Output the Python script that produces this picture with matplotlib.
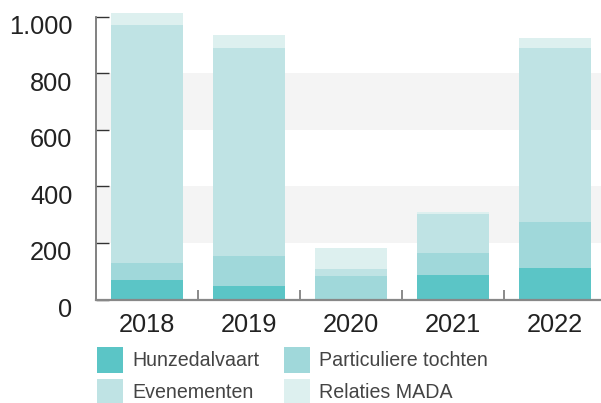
import numpy as np
import matplotlib.pyplot as plt
from matplotlib.patches import Rectangle
from matplotlib.transforms import ScaledTranslation

plt.rcParams['font.family'] = ['Liberation Sans', 'DejaVu Sans']

years = ['2018', '2019', '2020', '2021', '2022']
series = ['Hunzedalvaart', 'Particuliere tochten', 'Evenementen', 'Relaties MADA']
hunzedalvaart = [69, 49, 0, 86, 111]
particulier = [60, 105, 83, 78, 163]
evenementen = [843, 737, 25, 138, 617]
relaties = [40, 46, 74, 7, 32]
colors = ['#5bc5c6', '#a0d8da', '#bfe3e4', '#ddf0ef']
yticks = [0, 200, 400, 600, 800, 1000]
ytick_labels = ['0', '200', '400', '600', '800', '1.000']

fig = plt.figure(figsize=(6.01, 4.03), dpi=100)
ax = fig.add_axes([96/601, 103.5/403, 510/601, 282.8/403])

# grey bands
ax.axhspan(200, 400, color='#f4f4f4', lw=0, zorder=0)
ax.axhspan(600, 800, color='#f4f4f4', lw=0, zorder=0)

x = np.arange(len(years))
bottom = np.zeros(len(years))
for vals, c in zip([hunzedalvaart, particulier, evenementen, relaties], colors):
    ax.bar(x, vals, 0.7, bottom=bottom, color=c, lw=0, zorder=2, clip_on=False)
    bottom += np.array(vals)

ax.set_xlim(-0.5, 4.5)
ax.set_ylim(0, 1000)

for s in ['top', 'right']:
    ax.spines[s].set_visible(False)
ax.spines['left'].set_color('#777777')
ax.spines['left'].set_linewidth(1.3)
ax.spines['bottom'].set_color('#888888')
ax.spines['bottom'].set_linewidth(1.6)
ax.spines['bottom'].set_zorder(3)

ax.set_yticks(yticks)
ax.set_yticklabels(ytick_labels)
ax.tick_params(axis='y', direction='in', length=9, width=1, color='#333333',
               labelsize=18.3, labelcolor='#222222', pad=17)
for lab in ax.get_yticklabels():
    lab.set_transform(lab.get_transform() + ScaledTranslation(0, -8/100, fig.dpi_scale_trans))

ax.set_xticks(x)
ax.set_xticklabels(years)
ax.tick_params(axis='x', length=0, labelsize=18.3, labelcolor='#222222', pad=10)
ax.set_xticks(np.arange(0.5, 4.5, 1), minor=True)
ax.tick_params(axis='x', which='minor', direction='in', length=7, width=1.2, color='#777777')

# legend
legend_pos = [(97, 347), (284, 347), (97, 379), (284, 379)]
for (px, py), name, c in zip(legend_pos, series, colors):
    fig.add_artist(Rectangle((px/601, 1 - (py + 26)/403), 26/601, 26/403,
                             transform=fig.transFigure, color=c, lw=0))
    fig.text((px + 35)/601, 1 - (py + 13)/403, name, fontsize=14.1,
             color='#444444', va='center', ha='left')

fig.savefig('out.png', dpi=100)
